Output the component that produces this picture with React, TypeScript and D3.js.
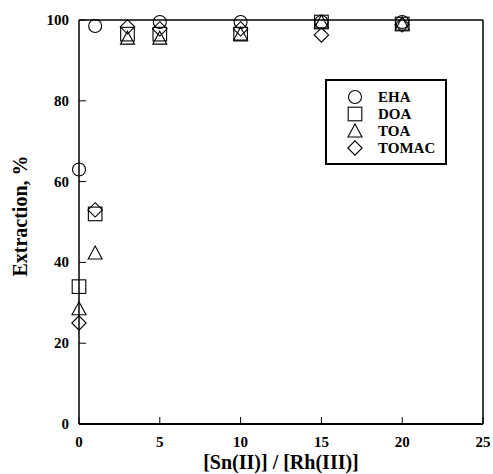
import React from "react";
import * as d3 from "d3";

const xValues = [0, 1, 3, 5, 10, 15, 20];
const ehaValues = [63, 98.5, null, 99.5, 99.5, 99.5, 99.5];
const doaValues = [34, 52, 96.5, 96.5, 96.5, 99.5, 99];
const toaValues = [28.5, 42.3, 95.5, 95.5, 96.5, 99.5, 99];
const tomacValues = [25, 53, 98.3, 97.8, 97.8, 96.3, 98.8];
const seriesNames = ["EHA", "DOA", "TOA", "TOMAC"];
const xTicks = [0, 5, 10, 15, 20, 25];
const yTicks = [0, 20, 40, 60, 80, 100];

const W = 493, H = 474;
const left = 79, right = 483, top = 20, bottom = 424;

function Marker({ type, x, y }: { type: string; x: number; y: number }) {
  const st = { fill: "none", stroke: "#000", strokeWidth: 1.1 };
  if (type === "EHA") return <circle cx={x} cy={y} r={6.5} {...st} />;
  if (type === "DOA") return <rect x={x - 6.8} y={y - 6.8} width={13.6} height={13.6} {...st} />;
  if (type === "TOA") {
    const s = 7;
    return <path d={`M${x},${y - s}L${x + s},${y + s * 0.85}L${x - s},${y + s * 0.85}Z`} {...st} />;
  }
  const s = 7.2;
  return <path d={`M${x},${y - s}L${x + s},${y}L${x},${y + s}L${x - s},${y}Z`} {...st} />;
}

export default function App() {
  const x = d3.scaleLinear().domain([0, 25]).range([left, right]);
  const y = d3.scaleLinear().domain([0, 100]).range([bottom, top]);
  const series = [ehaValues, doaValues, toaValues, tomacValues];
  const font = "'Liberation Serif', 'Times New Roman', serif";
  return (
    <svg width={W} height={H} style={{ position: "absolute", left: 0, top: 0, background: "#fff" }} fontFamily={font} fontWeight="bold">
      <rect x={0} y={0} width={W} height={H} fill="#fff" />
      {/* frame */}
      <line x1={left} x2={right} y1={top} y2={top} stroke="#000" strokeWidth={1.5} />
      <line x1={right} x2={right} y1={top} y2={bottom} stroke="#000" strokeWidth={1.5} />
      <line x1={left} x2={left} y1={top} y2={bottom} stroke="#000" strokeWidth={1.5} />
      <line x1={left} x2={right} y1={bottom} y2={bottom} stroke="#000" strokeWidth={2.2} />
      {xTicks.map((t) => (
        <g key={"x" + t}>
          <line x1={x(t)} x2={x(t)} y1={bottom} y2={bottom - 7} stroke="#000" strokeWidth={1} />
          <text x={x(t)} y={bottom + 23} textAnchor="middle" fontSize={15}>{t}</text>
        </g>
      ))}
      {yTicks.map((t) => (
        <g key={"y" + t}>
          <line x1={left} x2={left + 7} y1={y(t)} y2={y(t)} stroke="#000" strokeWidth={1} />
          <text x={left - 10} y={y(t) + 5} textAnchor="end" fontSize={15}>{t}</text>
        </g>
      ))}
      <text x={(left + right) / 2} y={469} textAnchor="middle" fontSize={20}>[Sn(II)] / [Rh(III)]</text>
      <text transform={`translate(27,216) rotate(-90)`} textAnchor="middle" fontSize={20}>Extraction, %</text>
      {series.map((vals, si) =>
        vals.map((v, i) =>
          v == null ? null : <Marker key={si + "-" + i} type={seriesNames[si]} x={x(xValues[i])} y={y(v)} />
        )
      )}
      {/* legend */}
      <rect x={326} y={80} width={120} height={84} fill="#fff" stroke="#000" strokeWidth={2} />
      {seriesNames.map((n, i) => (
        <g key={n}>
          <Marker type={n} x={355} y={97 + i * 17} />
          <text x={378} y={97 + i * 17 + 5} fontSize={15}>{n}</text>
        </g>
      ))}
    </svg>
  );
}
